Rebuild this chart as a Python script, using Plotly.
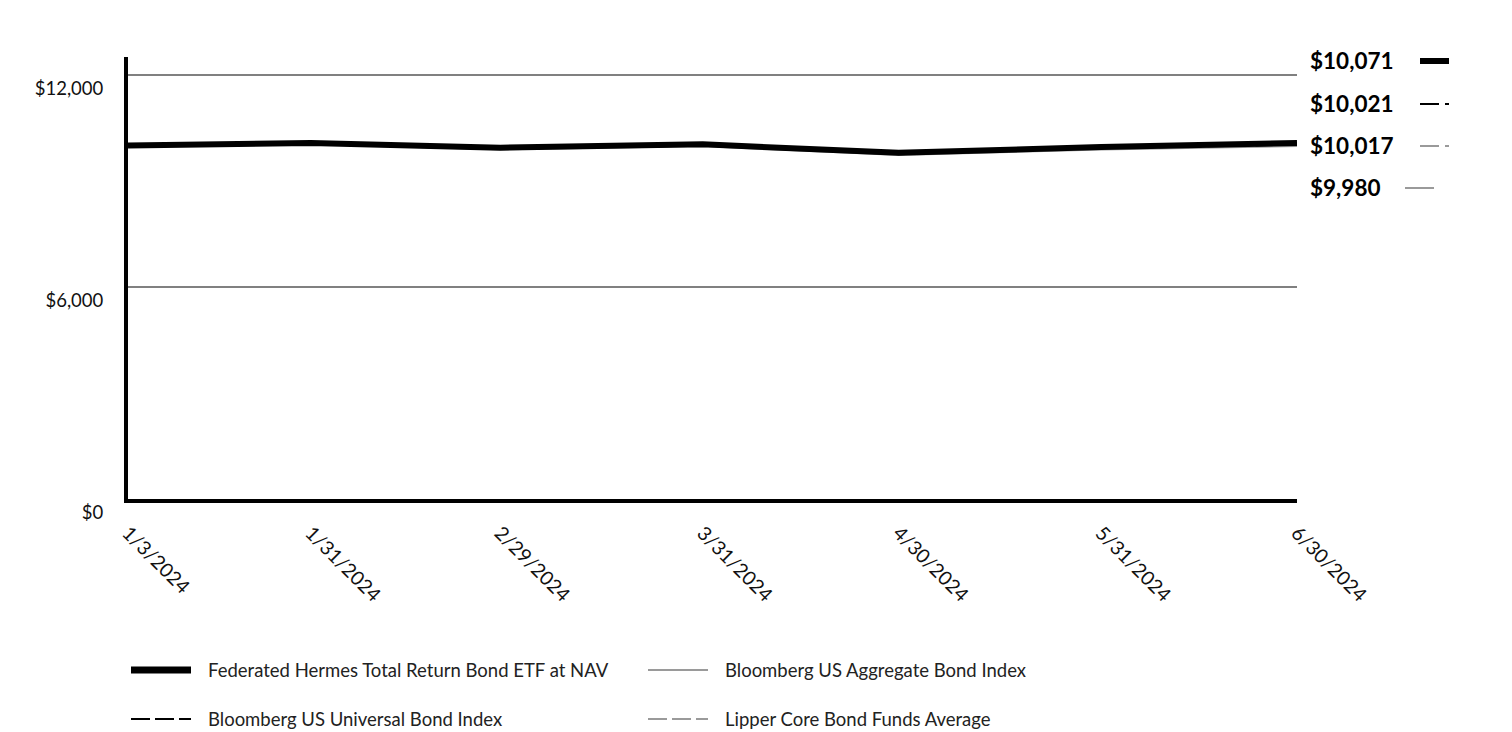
import plotly.graph_objects as go

# ---- data ----
dates = ["2024-01-03", "2024-01-31", "2024-02-29", "2024-03-31", "2024-04-30", "2024-05-31", "2024-06-30"]
date_labels = ["1/3/2024", "1/31/2024", "2/29/2024", "3/31/2024", "4/30/2024", "5/31/2024", "6/30/2024"]
fund = [10000, 10065, 9935, 10030, 9790, 9955, 10071]
universal = [10000, 10035, 9905, 10000, 9752, 9921, 10021]
aggregate = [10000, 10030, 9889, 9980, 9727, 9886, 9980]
lipper = [10000, 10040, 9905, 10000, 9750, 9920, 10017]
y_ticks = [0, 6000, 12000]
y_tick_labels = ["$0", "$6,000", "$12,000"]
names = ["Federated Hermes Total Return Bond ETF at NAV", "Bloomberg US Universal Bond Index",
         "Bloomberg US Aggregate Bond Index", "Lipper Core Bond Funds Average"]

FONT = "Lato"
BLACK = "#000000"
GRAY = "#9a9a9a"

OFF = 8  # page body margin
W, H = 1480, 724
# target page pixel positions of plot area: left 128, right 1297, top 57, bottom 499
L = 128 - OFF
T = 57 - OFF
R = W - (1297 - OFF)
B = H - (499 - OFF)
PW, PH = W - L - R, H - T - B

def px(x):  # page x -> paper
    return (x - OFF - L) / PW

def py(y):  # page y -> paper
    return (H - B - (y - OFF)) / PH

fig = go.Figure()
fig.add_trace(go.Scatter(x=dates, y=aggregate, mode="lines", line=dict(color=GRAY, width=2), showlegend=False))
fig.add_trace(go.Scatter(x=dates, y=lipper, mode="lines", line=dict(color=GRAY, width=2, dash="18px,6px"), showlegend=False))
fig.add_trace(go.Scatter(x=dates, y=universal, mode="lines", line=dict(color=BLACK, width=2, dash="18px,6px"), showlegend=False))
fig.add_trace(go.Scatter(x=dates, y=fund, mode="lines", line=dict(color=BLACK, width=6), showlegend=False))

shapes = []
annotations = []

# end labels on right
end_vals = [fund[-1], universal[-1], lipper[-1], aggregate[-1]]
end_styles = [
    dict(color=BLACK, width=6, dash="solid"),
    dict(color=BLACK, width=2, dash="19px,6px"),
    dict(color=GRAY, width=2, dash="19px,6px"),
    dict(color=GRAY, width=2, dash="solid"),
]
end_y = [61, 104, 146, 188]
swatch_x0 = [1420, 1420, 1420, 1405]
for v, st, yy, sx in zip(end_vals, end_styles, end_y, swatch_x0):
    annotations.append(dict(x=px(1308), y=py(yy), xref="paper", yref="paper", text=f"<b>${v:,}</b>",
                            showarrow=False, xanchor="left", yanchor="middle",
                            font=dict(family=FONT, size=22.5, color=BLACK)))
    shapes.append(dict(type="line", xref="paper", yref="paper", x0=px(sx), x1=px(sx + 29),
                       y0=py(yy), y1=py(yy), line=st))

# manual legend
leg_items = [
    (names[0], 131, 670, dict(color=BLACK, width=7, dash="solid")),
    (names[2], 648, 670, dict(color=GRAY, width=2, dash="solid")),
    (names[1], 131, 719, dict(color=BLACK, width=2, dash="19px,5px")),
    (names[3], 648, 719, dict(color=GRAY, width=2, dash="19px,5px")),
]
for name, x0, yy, st in leg_items:
    shapes.append(dict(type="line", xref="paper", yref="paper", x0=px(x0), x1=px(x0 + 60),
                       y0=py(yy), y1=py(yy), line=st))
    annotations.append(dict(x=px(x0 + 75), y=py(yy), xref="paper", yref="paper", text=name,
                            showarrow=False, xanchor="left", yanchor="middle",
                            font=dict(family=FONT, size=18.5, color="#222222")))

fig.update_layout(
    width=W, height=H,
    margin=dict(l=L, r=R, t=T, b=B),
    paper_bgcolor="white", plot_bgcolor="white",
    font=dict(family=FONT, size=18, color="#111111"),
    shapes=shapes, annotations=annotations,
    showlegend=False,
    xaxis=dict(type="date", range=[dates[0], dates[-1]], tickvals=dates, ticktext=date_labels,
               tickangle=45, showgrid=False, zeroline=False, showline=True, linecolor=BLACK,
               linewidth=4, ticks="", ticklabelstandoff=11, tickfont=dict(family=FONT, size=19.5, color="#111111")),
    yaxis=dict(range=[0, 12500], tickvals=y_ticks, ticktext=y_tick_labels, showgrid=True,
               gridcolor="#808080", gridwidth=1.5, zeroline=False, showline=True, linecolor=BLACK,
               linewidth=4, ticks="", ticklabelshift=14, ticklabelstandoff=17,
               tickfont=dict(family=FONT, size=18.5, color="#111111")),
)

fig.write_html("out.html")
